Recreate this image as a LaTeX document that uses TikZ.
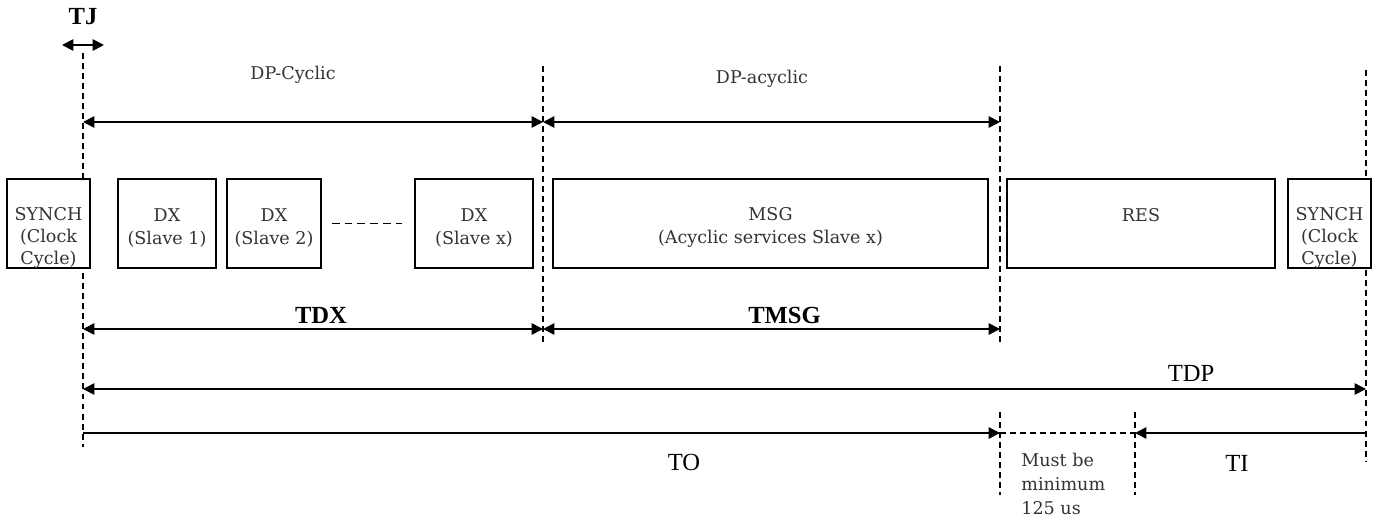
\documentclass[tikz,border=0pt]{standalone}
\usepackage{fontspec}
\setmainfont{DejaVu Serif}
\newfontfamily\timefont{Liberation Serif}
\usetikzlibrary{arrows.meta}

\tikzset{
	frame/.style={draw,fill=white,line width=0.8pt,inner sep=0pt},
	boxtext/.style={align=center,inner sep=0pt,text=black!80,font=\fontsize{10}{13.5}\selectfont},
	marker/.style={draw,line width=0.8pt,dash pattern=on 3.4pt off 2.3pt},
	span/.style={line width=1pt,>={Triangle[length=6.5pt,width=6.5pt]}},
	tlabel/.style={anchor=base,inner sep=0pt,font=\timefont\fontsize{14}{16}\selectfont},
	blabel/.style={tlabel,font=\timefont\bfseries\fontsize{14}{16}\selectfont},
}

\begin{document}
\begin{tikzpicture}[x=0.02cm,y=-0.02cm]
		\useasboundingbox (0,0) rectangle (1375,517);
		% time marks
		\coordinate (s0) at (83,53);
		\coordinate (s1) at (83,447);
		\coordinate (m0) at (543,66);
		\coordinate (m1) at (543,345);
		\coordinate (r0) at (1000,66);
		\coordinate (r1) at (1000,345);
		\coordinate (g0) at (1000,412);
		\coordinate (g1) at (1000,495);
		\coordinate (h0) at (1135,412);
		\coordinate (h1) at (1135,495);
		\coordinate (e0) at (1366,70);
		\coordinate (e1) at (1366,462);
		\path[marker]
		(s0) edge (s1)
		(m0) edge (m1)
		(r0) edge (r1)
		(g0) edge (g1)
		(h0) edge (h1)
		(e0) edge (e1);
		%
		% boxes
		\node[frame,minimum width=1.66cm,minimum height=1.78cm] (synchA) at (48.5,223.5) {};
		\node[frame,minimum width=1.96cm,minimum height=1.78cm] (dxA) at (167,223.5) {};
		\node[frame,minimum width=1.88cm,minimum height=1.78cm] (dxB) at (274,223.5) {};
		\node[frame,minimum width=2.36cm,minimum height=1.78cm] (dxX) at (474,223.5) {};
		\node[frame,minimum width=8.70cm,minimum height=1.78cm] (msg) at (770.5,223.5) {};
		\node[frame,minimum width=5.36cm,minimum height=1.78cm] (res) at (1141,223.5) {};
		\node[frame,minimum width=1.66cm,minimum height=1.78cm] (synchB) at (1329.5,223.5) {};
		\node[boxtext,font=\fontsize{10}{12.7}\selectfont] (synchAt) at (48.5,238) {SYNCH\\(Clock\\Cycle)};
		\node[boxtext] (dxAt) at (167,228) {DX\\(Slave 1)};
		\node[boxtext] (dxBt) at (274,228) {DX\\(Slave 2)};
		\node[boxtext] (dxXt) at (474,228) {DX\\(Slave x)};
		\node[boxtext] (msgt) at (770.5,227.5) {MSG\\(Acyclic services Slave x)};
		\node[boxtext] (rest) at (1141,215) {RES};
		\node[boxtext,font=\fontsize{10}{12.7}\selectfont] (synchBt) at (1329.5,238) {SYNCH\\(Clock\\Cycle)};
		\draw[line width=0.8pt,dash pattern=on 4.5pt off 2.8pt,shorten <=0.2cm,shorten >=0.24cm] (dxB) -- (dxX);
		%
		% spans
		\coordinate (jA) at (62,45);
		\coordinate (jB) at (104,45);
		\coordinate (cA) at (83,122);
		\coordinate (cB) at (543,122);
		\coordinate (cC) at (1000,122);
		\coordinate (dA) at (83,329);
		\coordinate (dB) at (543,329);
		\coordinate (dC) at (1000,329);
		\coordinate (pA) at (83,389);
		\coordinate (pB) at (1366,389);
		\coordinate (oA) at (83,433);
		\coordinate (oB) at (1000,433);
		\coordinate (iA) at (1135,433);
		\coordinate (iB) at (1366,433);
		\path[span]
		(jA) edge[<->] (jB)
		(cA) edge[<->] (cB)
		(cB) edge[<->] (cC)
		(dA) edge[<->] (dB)
		(dB) edge[<->] (dC)
		(pA) edge[<->] (pB)
		(oA) edge[->] (oB)
		(iB) edge[->] (iA);
		\path[marker] (oB) edge (iA);
		%
		% labels
		\node[blabel] (tj) at (83,25) {TJ};
		\node[boxtext,anchor=base] (cyc) at (293,80) {DP-Cyclic};
		\node[boxtext,anchor=base] (acyc) at (762,84) {DP-acyclic};
		\node[blabel] (tdx) at (321,323) {TDX};
		\node[blabel] (tmsg) at (784.5,323) {TMSG};
		\node[tlabel] (tdp) at (1191,381) {TDP};
		\node[tlabel] (to) at (684,470) {TO};
		\node[tlabel] (ti) at (1237,471) {TI};
		\node[boxtext,align=left,anchor=west] (gap) at (1021,484) {Must be\\minimum\\125 us};
\end{tikzpicture}
\end{document}
